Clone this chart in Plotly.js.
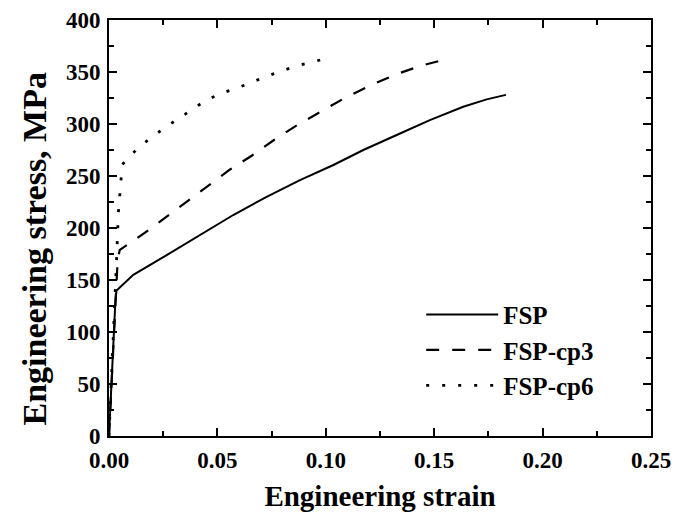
<!DOCTYPE html>
<html>
<head>
<meta charset="utf-8">
<script src="https://cdn.plot.ly/plotly-3.0.1.min.js"></script>
<style>html,body{margin:0;padding:0;background:#fff;}#chart{width:677px;height:513px;}</style>
</head>
<body>
<div id="chart"></div>
<script>
var seriesNames = ["FSP", "FSP-cp3", "FSP-cp6"];

var fspStrain = [0, 0.001, 0.002, 0.003, 0.0035, 0.0112, 0.0266, 0.042, 0.0573, 0.0727, 0.0881, 0.1035, 0.1173, 0.1327, 0.148, 0.1634, 0.1742, 0.1831];
var fspStress = [0, 45, 92, 132, 140, 155, 174, 193, 212.5, 230, 246, 260.6, 275, 289.4, 303.8, 316.6, 323.7, 328];

var cp3Strain = [0, 0.001, 0.002, 0.003, 0.0035, 0.004, 0.005, 0.0166, 0.0266, 0.035, 0.0455, 0.0555, 0.0658, 0.0761, 0.0866, 0.0988, 0.1096, 0.122, 0.1327, 0.1435, 0.1531];
var cp3Stress = [0, 45, 92, 135, 155, 170, 179, 195.5, 211, 224, 240, 255.8, 269.5, 284.6, 298.7, 313.5, 326, 338.5, 348, 355.8, 361];

var cp6Strain = [0, 0.001, 0.002, 0.003, 0.0035, 0.0043, 0.0048, 0.0054, 0.0061, 0.0125, 0.020, 0.0274, 0.0347, 0.042, 0.0495, 0.0569, 0.0641, 0.0715, 0.0789, 0.0863, 0.0936, 0.101];
var cp6Stress = [0, 45, 92, 135, 170, 214, 229.5, 245, 261, 275, 288, 298.7, 309, 319, 327.6, 333, 338.5, 345, 350.7, 355.8, 359.5, 363.5];

var xTickVals = [0, 0.05, 0.10, 0.15, 0.20, 0.25];
var xTickText = ["0.00", "0.05", "0.10", "0.15", "0.20", "0.25"];
var yTickVals = [0, 50, 100, 150, 200, 250, 300, 350, 400];
var yTickText = ["0", "50", "100", "150", "200", "250", "300", "350", "400"];

var serif = "Liberation Serif";

var traces = [
  {x: fspStrain, y: fspStress, name: seriesNames[0], mode: "lines", type: "scatter",
   line: {color: "#000", width: 2, dash: "solid"}},
  {x: cp3Strain, y: cp3Stress, name: seriesNames[1], mode: "lines", type: "scatter",
   line: {color: "#000", width: 2.2, dash: "13px,13px"}},
  {x: cp6Strain, y: cp6Stress, name: seriesNames[2], mode: "lines", type: "scatter",
   line: {color: "#000", width: 2.8, dash: "3px,13px"}}
];

var layout = {
  width: 677, height: 513,
  margin: {l: 109, r: 26, t: 20, b: 77},
  paper_bgcolor: "#fff", plot_bgcolor: "#fff",
  font: {family: serif, color: "#000", weight: "bold"},
  showlegend: true,
  legend: {
    x: 0.576, y: 0.347, xanchor: "left", yanchor: "top",
    bgcolor: "rgba(0,0,0,0)", borderwidth: 0,
    font: {family: serif, size: 25, color: "#000", weight: "bold"},
    itemwidth: 72, tracegroupgap: 0
  },
  xaxis: {
    range: [0, 0.25], tickvals: xTickVals, ticktext: xTickText,
    showgrid: false, zeroline: false, showline: true, linecolor: "#000", linewidth: 2,
    mirror: "ticks", ticks: "inside", ticklen: 8, tickwidth: 2, tickcolor: "#000",
    minor: {dtick: 0.025, tick0: 0, ticks: "inside", ticklen: 5, tickwidth: 2, tickcolor: "#000", showgrid: false},
    tickfont: {family: serif, size: 23, color: "#000", weight: "bold"},
    ticklabelstandoff: 2,
    title: {text: "Engineering strain", standoff: 14, font: {family: serif, size: 29, color: "#000", weight: "bold"}}
  },
  yaxis: {
    range: [0, 400], tickvals: yTickVals, ticktext: yTickText,
    showgrid: false, zeroline: false, showline: true, linecolor: "#000", linewidth: 2,
    mirror: "ticks", ticks: "inside", ticklen: 8, tickwidth: 2, tickcolor: "#000",
    minor: {dtick: 25, tick0: 0, ticks: "inside", ticklen: 5, tickwidth: 2, tickcolor: "#000", showgrid: false},
    tickfont: {family: serif, size: 23, color: "#000", weight: "bold"},
    ticklabelstandoff: 2,
    title: {text: ""}
  },
  annotations: [
    {text: "Engineering stress, MPa", xref: "paper", yref: "paper",
     x: -0.137, y: 0.45, xanchor: "center", yanchor: "middle", textangle: -90, showarrow: false,
     font: {family: serif, size: 34, color: "#000", weight: "bold"}}
  ]
};

Plotly.newPlot("chart", traces, layout, {displayModeBar: false, staticPlot: true});
</script>
</body>
</html>
